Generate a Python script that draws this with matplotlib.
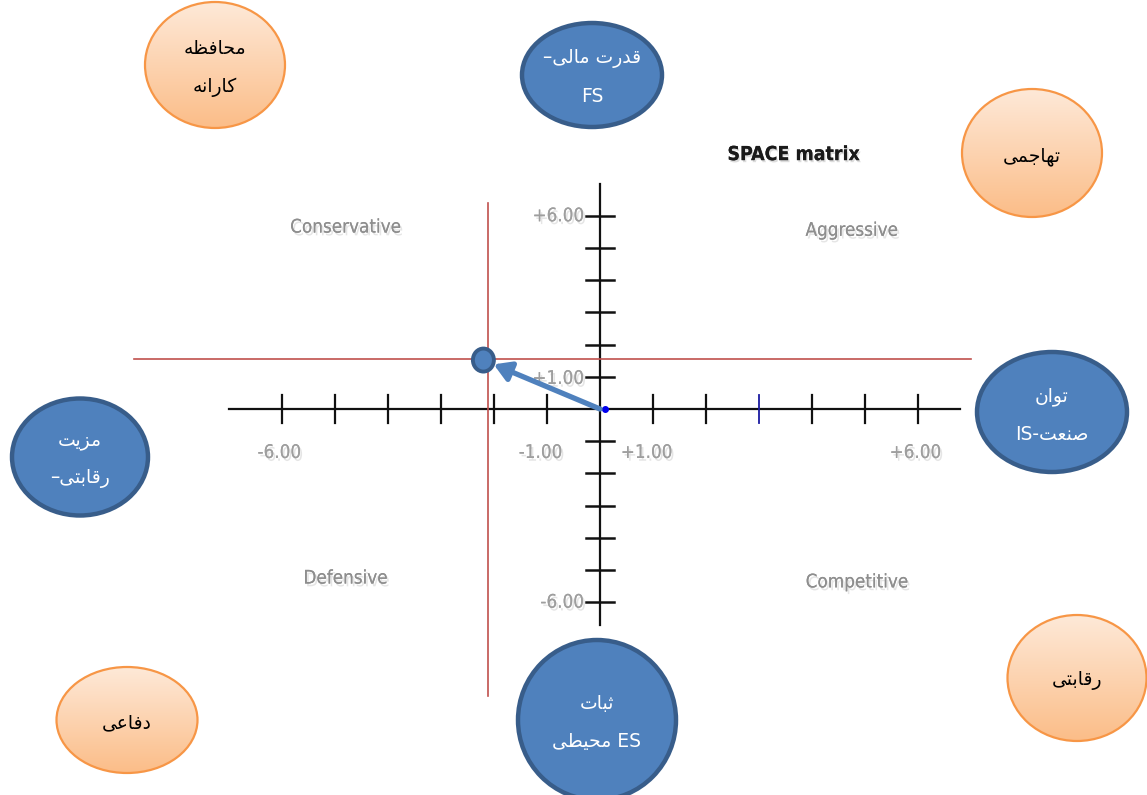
import numpy as np
import matplotlib
matplotlib.use("Agg")
import matplotlib.pyplot as plt
from matplotlib.patches import Ellipse
import matplotlib.patheffects as pe
from matplotlib import font_manager

# --- data ---
x_ticks = [-6, -5, -4, -3, -2, -1, 1, 2, 3, 4, 5, 6]
y_ticks = [-6, -5, -4, -3, -2, -1, 1, 2, 3, 4, 5, 6]
x_tick_labels = {-6: "-6.00", -1: "-1.00", 1: "+1.00", 6: "+6.00"}
y_tick_labels = {6: "+6.00", 1: "+1.00", -6: "-6.00"}
point_x, point_y = -2.2, 1.52          # result vector (CA+IS, FS+ES)
guide_x, guide_y = -2.12, 1.56         # red guide lines
quadrants = ["Conservative", "Aggressive", "Defensive", "Competitive"]
quadrant_xy = [(-4.8, 5.65), (4.75, 5.55), (-4.8, -5.25), (4.85, -5.37)]

# bubbles: text lines, center px, size px, kind
bubble_lines = [
    ["محافظه", "کارانه"],
    ["قدرت مالی", "FS"],
    ["تهاجمی"],
    ["مزیت", "رقابتی"],
    ["توان", "صنعت"],
    ["ثبات", "محیطی"],
    ["دفاعی"],
    ["رقابتی"],
]
bubble_kind = ["o", "b", "o", "b", "b", "b", "o", "o"]
bubble_center = [(215, 65), (592, 75), (1032, 153), (80, 457),
                 (1052, 412), (597, 720), (127, 720), (1077, 678)]
bubble_size = [(140, 126), (140, 104), (140, 128), (136, 117),
               (150, 120), (158, 160), (141, 106), (139, 126)]

# --- minimal Arabic/Persian shaping (matplotlib has no shaping) ---
FORMS = {  # iso, fin, ini, med
    "ا": (0xFE8D, 0xFE8E), "د": (0xFEA9, 0xFEAA), "ر": (0xFEAD, 0xFEAE),
    "ز": (0xFEAF, 0xFEB0), "و": (0xFEED, 0xFEEE),
    "ب": (0xFE8F, 0xFE90, 0xFE91, 0xFE92), "ت": (0xFE95, 0xFE96, 0xFE97, 0xFE98),
    "ث": (0xFE99, 0xFE9A, 0xFE9B, 0xFE9C), "ج": (0xFE9D, 0xFE9E, 0xFE9F, 0xFEA0),
    "ح": (0xFEA1, 0xFEA2, 0xFEA3, 0xFEA4), "ص": (0xFEB9, 0xFEBA, 0xFEBB, 0xFEBC),
    "ط": (0xFEC1, 0xFEC2, 0xFEC3, 0xFEC4), "ظ": (0xFEC5, 0xFEC6, 0xFEC7, 0xFEC8),
    "ع": (0xFEC9, 0xFECA, 0xFECB, 0xFECC), "ف": (0xFED1, 0xFED2, 0xFED3, 0xFED4),
    "ق": (0xFED5, 0xFED6, 0xFED7, 0xFED8), "ل": (0xFEDD, 0xFEDE, 0xFEDF, 0xFEE0),
    "م": (0xFEE1, 0xFEE2, 0xFEE3, 0xFEE4), "ن": (0xFEE5, 0xFEE6, 0xFEE7, 0xFEE8),
    "ه": (0xFEE9, 0xFEEA, 0xFEEB, 0xFEEC),
    "ی": (0xFEEF, 0xFEF0, 0xFEF3, 0xFEF4), "ک": (0xFED9, 0xFEDA, 0xFEDB, 0xFEDC),
}


def shape(text):
    out = []
    for i, ch in enumerate(text):
        if ch not in FORMS:
            out.append(ch)
            continue
        prev = text[i - 1] if i > 0 else ""
        nxt = text[i + 1] if i + 1 < len(text) else ""
        j_prev = prev in FORMS and len(FORMS[prev]) == 4
        j_next = len(FORMS[ch]) == 4 and nxt in FORMS
        f = FORMS[ch]
        if j_prev and j_next:
            out.append(chr(f[3]))
        elif j_prev:
            out.append(chr(f[1]))
        elif j_next:
            out.append(chr(f[2]))
        else:
            out.append(chr(f[0]))
    return "".join(out)[::-1]


# visual line order for mixed text
def visual(line, idx, k):
    s = shape(line)
    if idx == 1 and k == 0:
        return "\u2013" + s
    if idx == 3 and k == 1:
        return "\u2013" + s
    if idx == 4 and k == 1:
        return "IS-" + s
    if idx == 5 and k == 1:
        return s + " ES"
    return line if line.isascii() else s


W, H = 1147, 795
fig = plt.figure(figsize=(W / 100, H / 100), dpi=100)
fig.patch.set_facecolor("white")

# main axes in data units: origin at pixel (600, 409)
sx, sy = 53.0, 32.2
ax = fig.add_axes([0, 0, 1, 1])
ax.set_xlim(-600 / sx, (W - 600) / sx)
ax.set_ylim(-(H - 409) / sy, 409 / sy)
ax.axis("off")

# narrow font if one is around
names = {f.name for f in font_manager.fontManager.ttflist}
cond = [f for f in font_manager.fontManager.ttflist
        if f.name == "DejaVu Sans" and f.stretch == "condensed" and f.weight in (400, "normal")]
if "Liberation Sans Narrow" in names:
    narrow = dict(family="Liberation Sans Narrow")
elif cond:
    narrow = dict(family="DejaVu Sans", stretch="condensed")
else:
    narrow = dict(family="DejaVu Sans")

gray_fx = [pe.withSimplePatchShadow(offset=(1.5, -2), shadow_rgbFace="#d4d4d4", alpha=0.6), pe.Normal()]

# axes lines
ax.plot([-7.0, 6.8], [0, 0], color="#111111", lw=1.6, zorder=2)
ax.plot([0, 0], [-6.7, 7.0], color="#111111", lw=1.6, zorder=2)
tx = 14 / sy
ty = 14 / sx
for v in x_ticks:
    c = "#1a1aa0" if v == 3 else "#111111"
    ax.plot([v, v], [-tx, tx], color=c, lw=1.3 if v == 3 else 1.6, zorder=2)
for v in y_ticks:
    ax.plot([-ty, ty], [v, v], color="#111111", lw=1.8, zorder=2)

for v, lab in x_tick_labels.items():
    off = -0.05 if abs(v) == 6 else -0.12
    ax.text(v + off, -1.35, lab, ha="center", va="center", fontsize=13.5,
            color="#9e9e9e", path_effects=gray_fx, **narrow)
for v, lab in y_tick_labels.items():
    ax.text(-0.3, v - (0.05 if v == 1 else 0), lab, ha="right", va="center",
            fontsize=13.5, color="#9e9e9e", path_effects=gray_fx, **narrow)

# quadrant labels
for lab, (qx, qy) in zip(quadrants, quadrant_xy):
    ax.text(qx, qy, lab, ha="center", va="center", fontsize=13.5, color="#8e8e8e",
            path_effects=gray_fx, **narrow)

ax.text(3.66, 7.9, "SPACE matrix", ha="center", va="center", fontsize=14,
        fontweight="bold", color="#1a1a1a",
        path_effects=[pe.withSimplePatchShadow(offset=(1, -1.5), shadow_rgbFace="#bbbbbb", alpha=0.5), pe.Normal()],
        **narrow)

# red guide lines
ax.plot([-8.8, 7.0], [guide_y, guide_y], color="#c0504d", lw=1.2, zorder=3)
ax.plot([guide_x, guide_x], [-8.9, 6.4], color="#c0504d", lw=1.2, zorder=3)

# origin speck
ax.plot([0.1], [0.0], marker="o", ms=4, color="#0000ee", zorder=4)

# vector arrow and point
ax.annotate("", xy=(point_x, point_y), xytext=(0, 0),
            arrowprops=dict(arrowstyle="-|>,head_length=1.0,head_width=0.6",
                            color="#4f81bd", lw=3.8, shrinkA=0, shrinkB=8),
            zorder=5)
ax.add_patch(Ellipse((point_x, point_y), 21 / sx, 23 / sy, facecolor="#4f81bd",
                     edgecolor="#385d8a", lw=2.8, zorder=6))

# bubbles overlay in pixel coordinates
ov = fig.add_axes([0, 0, 1, 1])
ov.patch.set_alpha(0)
ov.axis("off")

grad = np.linspace(0, 1, 256)[:, None, None]
top = np.array(matplotlib.colors.to_rgb("#fee9d8"))
bot = np.array(matplotlib.colors.to_rgb("#fbbd88"))
img = top + (bot - top) * grad
img = np.repeat(img, 2, axis=1)

for i, lines in enumerate(bubble_lines):
    cx, cy = bubble_center[i]
    w, h = bubble_size[i]
    if bubble_kind[i] == "o":
        e = Ellipse((cx, cy), w, h, facecolor="none", edgecolor="#f79646", lw=1.6, zorder=3)
        ov.add_patch(e)
        im = ov.imshow(img, extent=(cx - w / 2, cx + w / 2, cy + h / 2, cy - h / 2),
                       aspect="auto", origin="upper", zorder=2, interpolation="bilinear")
        im.set_clip_path(e)
        tc = "black"
    else:
        e = Ellipse((cx, cy), w, h, facecolor="#4f81bd", edgecolor="#385d8a", lw=3.2, zorder=3)
        ov.add_patch(e)
        tc = "white"
    n = len(lines)
    for k, line in enumerate(lines):
        yy = cy + (k - (n - 1) / 2) * 38 + 3
        ov.text(cx, yy, visual(line, i, k), ha="center", va="center",
                fontsize=13.5, color=tc, family="DejaVu Sans", zorder=4)

ov.set_xlim(0, W)
ov.set_ylim(H, 0)

fig.savefig("out.png", dpi=100)
